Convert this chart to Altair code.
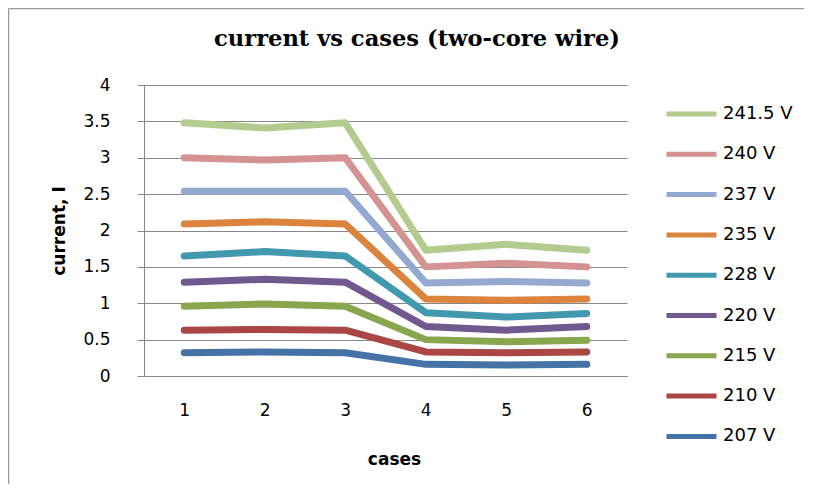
import altair as alt
import pandas as pd

cases = [1, 2, 3, 4, 5, 6]
series_names = ["241.5 V", "240 V", "237 V", "235 V", "228 V", "220 V", "215 V", "210 V", "207 V"]
v241_5 = [3.48, 3.41, 3.48, 1.73, 1.81, 1.73]
v240 = [3.00, 2.97, 3.00, 1.50, 1.55, 1.50]
v237 = [2.54, 2.54, 2.54, 1.28, 1.30, 1.28]
v235 = [2.09, 2.12, 2.09, 1.06, 1.04, 1.06]
v228 = [1.65, 1.71, 1.65, 0.87, 0.81, 0.86]
v220 = [1.29, 1.33, 1.29, 0.68, 0.63, 0.68]
v215 = [0.96, 0.99, 0.96, 0.50, 0.47, 0.49]
v210 = [0.63, 0.64, 0.63, 0.33, 0.32, 0.33]
v207 = [0.32, 0.33, 0.32, 0.16, 0.15, 0.16]
colors = ["#B3CB8E", "#D49392", "#93A9CF", "#DB843D", "#4198AF", "#71588F", "#89A54E", "#AA4643", "#4572A7"]
y_ticks = [0, 0.5, 1, 1.5, 2, 2.5, 3, 3.5, 4]
chart_title = ["current vs cases (two-core wire)"]

all_vals = [v241_5, v240, v237, v235, v228, v220, v215, v210, v207]
rows = []
for name, vals in zip(series_names, all_vals):
    for c, v in zip(cases, vals):
        rows.append({"case": str(c), "current": v, "series": name})
df = pd.DataFrame(rows)

FONT = "DejaVu Sans"
GRAY = "#888888"

lines = alt.Chart(df).mark_line(strokeWidth=7, strokeCap="round", strokeJoin="round").encode(
    x=alt.X("case:N", title="cases", sort=[str(c) for c in cases],
            scale=alt.Scale(paddingOuter=0.5, paddingInner=0),
            axis=alt.Axis(labelAngle=0, ticks=False, grid=False, labelPadding=26,
                          titlePadding=33, titleX=250, domainColor=GRAY)),
    y=alt.Y("current:Q", title="current, I",
            scale=alt.Scale(domain=[0, 4]),
            axis=alt.Axis(values=y_ticks, format="~g",
                          tickSize=7, tickColor=GRAY, gridColor=GRAY,
                          domainColor=GRAY, labelPadding=27, titlePadding=14)),
    color=alt.Color("series:N", sort=series_names,
                    scale=alt.Scale(domain=series_names, range=colors),
                    legend=alt.Legend(title=None, orient="none", legendX=520, legendY=19,
                                      symbolType="stroke", symbolSize=2500, symbolStrokeWidth=5,
                                      clipHeight=20, rowPadding=20.3, labelOffset=4,
                                      labelFontSize=18, labelFont=FONT, labelColor="#000000")),
    order=alt.Order("case:N"),
)

title_text = alt.Chart(pd.DataFrame({"t": chart_title})).mark_text(
    font="DejaVu Serif", fontSize=22.6, fontWeight="bold", color="#000000",
    align="center", baseline="alphabetic"
).encode(text="t:N", x=alt.value(273), y=alt.value(-39))

one = pd.DataFrame({"b": [0]})
top_rule = alt.Chart(one).mark_rule(color="#9a9a9a", strokeWidth=1.5).encode(
    x=alt.value(-135.5), x2=alt.value(660), y=alt.value(-76.5))
left_rule = alt.Chart(one).mark_rule(color="#9a9a9a", strokeWidth=1.5).encode(
    x=alt.value(-135.5), y=alt.value(-76.5), y2=alt.value(399))

chart = alt.layer(top_rule, left_rule, lines, title_text).properties(
    width=483, height=291,
    padding={"left": 136, "top": 77, "right": 178, "bottom": 109},
    autosize=alt.AutoSizeParams(type="none"),
).configure_view(stroke=None).configure_axis(
    labelFont=FONT, labelFontSize=17, labelColor="#000000",
    titleFont=FONT, titleFontSize=17, titleFontWeight="bold", titleColor="#000000",
    gridWidth=1, domainWidth=1,
)

chart.save("out.html", embed_options={"renderer": "svg", "actions": False})
